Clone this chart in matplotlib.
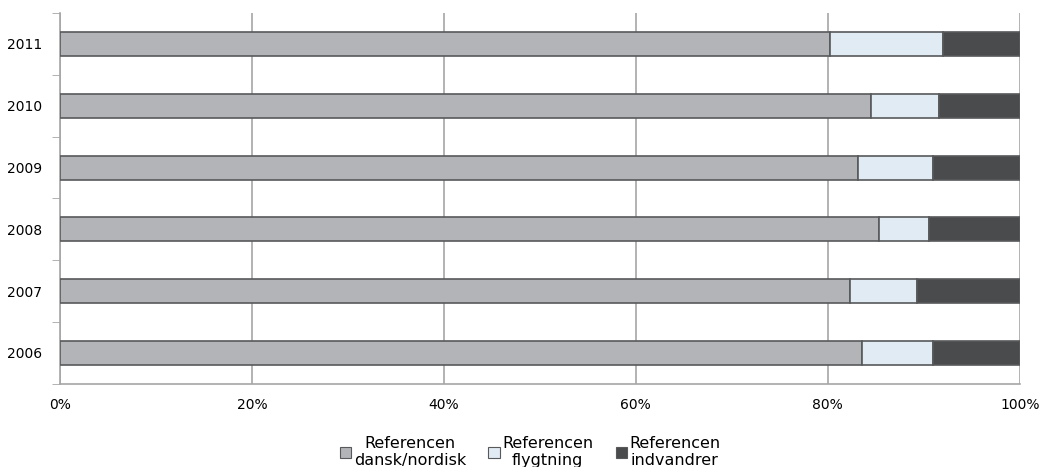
import matplotlib
matplotlib.use('Agg')
from matplotlib import pyplot as plt
import numpy as np

years = ['2006', '2007', '2008', '2009', '2010', '2011']
dansk = [83.6, 82.3, 85.3, 83.1, 84.5, 80.2]
flygtning = [7.4, 7.0, 5.2, 7.9, 7.1, 11.8]
indvandrer = [9.0, 10.7, 9.5, 9.0, 8.4, 8.0]
labels = ['Referencen\ndansk/nordisk', 'Referencen\nflygtning', 'Referencen\nindvandrer']
colors = ['#b3b4b8', '#e1ebf3', '#4a4b4d']

plt.rcParams['font.family'] = ['DejaVu Sans']

fig = plt.figure(figsize=(10.41, 4.67), dpi=100)
ax = fig.add_axes([0.0576, 0.178, 0.922, 0.794])

y = np.arange(len(years))
left = np.zeros(len(years))
for vals, lab, col in zip([dansk, flygtning, indvandrer], labels, colors):
    ax.barh(y, vals, left=left, height=0.39, color=col, edgecolor='#58595b',
            linewidth=1.2, label=lab, zorder=3)
    left = left + np.array(vals)

ax.set_xlim(0, 100)
ax.set_ylim(-0.5, len(years) - 0.5)
ax.set_xticks(np.arange(0, 101, 20))
ax.set_xticklabels([f'{v}%' for v in range(0, 101, 20)])
ax.set_yticks(y)
ax.set_yticklabels(years)
ax.set_yticks(np.arange(-0.5, len(years), 1), minor=True)
ax.tick_params(axis='y', which='major', length=0, pad=13, labelsize=10)
ax.tick_params(axis='y', which='minor', length=6, color='#a6a6a6')
ax.tick_params(axis='x', length=0, pad=10, labelsize=10)
ax.grid(axis='x', color='#a6a6a6', linewidth=1.2, zorder=0)

for s in ['top', 'right']:
    ax.spines[s].set_visible(False)
ax.spines['left'].set_color('#a6a6a6')
ax.spines['left'].set_linewidth(1.2)
ax.spines['bottom'].set_color('#a6a6a6')
ax.spines['bottom'].set_linewidth(1.2)

leg = ax.legend(loc='upper center', bbox_to_anchor=(0.49, -0.12), ncol=3,
                frameon=False, fontsize=11.5, handlelength=0.7, handleheight=0.7,
                handletextpad=0.15, columnspacing=1.4, labelspacing=0,
                borderpad=0)
for t in leg.get_texts():
    t.set_multialignment('center')
    t.set_linespacing(1.15)
for h in leg.legend_handles:
    h.set_linewidth(0.8)

fig.savefig('out.png', dpi=100)
